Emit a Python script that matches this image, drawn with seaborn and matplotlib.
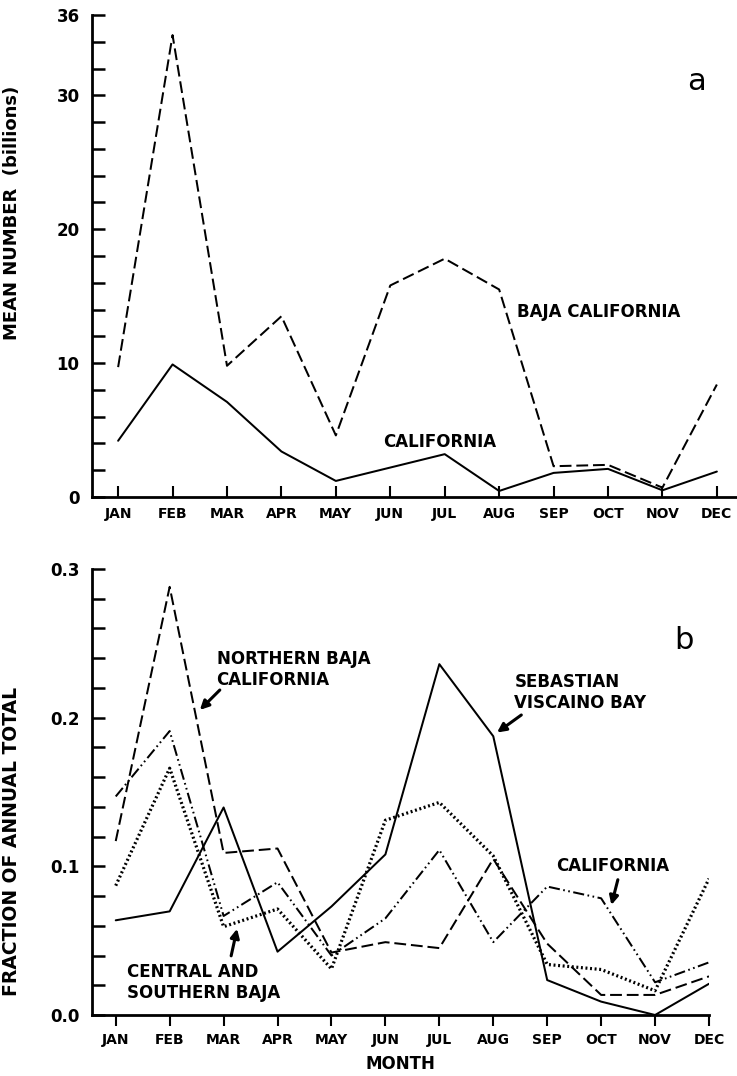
import numpy as np
import pandas as pd
import matplotlib
matplotlib.use("Agg")
import matplotlib.pyplot as plt
import seaborn as sns

# ---------------- data ----------------
MONTHS = ["JAN", "FEB", "MAR", "APR", "MAY", "JUN",
          "JUL", "AUG", "SEP", "OCT", "NOV", "DEC"]

# panel a: mean number (billions)
BAJA_A = [9.7, 34.5, 9.8, 13.5, 4.6, 15.8, 17.8, 15.5, 2.3, 2.4, 0.7, 8.4]
CALIF_A = [4.2, 9.9, 7.1, 3.4, 1.2, 2.2, 3.2, 0.45, 1.8, 2.1, 0.5, 1.9]

# panel b: fraction of annual total
NBAJA_B = [0.117, 0.288, 0.109, 0.112, 0.042, 0.049, 0.045, 0.105, 0.048, 0.0135, 0.0135, 0.026]
SVB_B = [0.0637, 0.0697, 0.1396, 0.0426, 0.073, 0.108, 0.236, 0.1875, 0.0235, 0.009, 0.0, 0.021]
CALIF_B = [0.147, 0.191, 0.0666, 0.0893, 0.040, 0.065, 0.111, 0.049, 0.0864, 0.0785, 0.022, 0.0354]
CSBAJA_B = [0.087, 0.166, 0.0594, 0.0713, 0.031, 0.131, 0.143, 0.107, 0.034, 0.0306, 0.0163, 0.0917]

YTICKS_A = [0, 10, 20, 30, 36]
YTICKS_B = [0.0, 0.1, 0.2, 0.3]

# ---------------- style ----------------
sns.set_style("ticks")
plt.rcParams["font.family"] = ["DejaVu Sans"]
plt.rcParams["lines.scale_dashes"] = False
for k in ["text.color", "axes.labelcolor", "xtick.color", "ytick.color", "axes.edgecolor"]:
    plt.rcParams[k] = "black"

fig = plt.figure(figsize=(7.37, 10.76), dpi=100)
ax1 = fig.add_axes([92 / 737, (1076 - 497) / 1076, 1 - 92 / 737, (497 - 15) / 1076])
ax2 = fig.add_axes([92 / 737, (1076 - 1015) / 1076, (709 - 92) / 737, (1015 - 569) / 1076])

idx = list(range(len(MONTHS)))

def draw(ax, values, ls, lw):
    df = pd.DataFrame({"m": idx, "v": values})
    sns.lineplot(data=df, x="m", y="v", ax=ax, color="black", sort=False,
                 linestyle=ls, linewidth=lw, errorbar=None)

DASH_A = (0, (8.5, 3.5))
DASH_B = (0, (8.5, 3.5))
DASHDOT = (0, (8, 2.5, 1.2, 2.5, 1.2, 2.5))
DOTS = (0, (1.4, 1.9))

ANN = dict(fontsize=12, fontweight="bold")

# ---- panel a ----
draw(ax1, BAJA_A, DASH_A, 1.45)
draw(ax1, CALIF_A, "-", 1.45)

ax1.set_xlim(-0.48, 11.37)
ax1.set_ylim(0, 36)
yt1 = np.arange(0, 37, 2)
ax1.set_yticks(yt1)
ax1.set_yticklabels([str(int(t)) if t in YTICKS_A else "" for t in yt1])
ax1.set_xticks(idx)
ax1.set_xticklabels(MONTHS)
ax1.tick_params(axis="y", direction="in", length=9, width=1.8, labelsize=12, pad=9)
ax1.tick_params(axis="x", direction="in", length=8, width=1.5, labelsize=10, pad=7)
for lab in ax1.get_xticklabels() + ax1.get_yticklabels():
    lab.set_fontweight("bold")
ax1.set_xlabel("")
ax1.set_ylabel("MEAN NUMBER  (billions)", fontsize=13, fontweight="bold")
ax1.yaxis.set_label_coords(-0.11, 0.59)
for s in ["top", "right"]:
    ax1.spines[s].set_visible(False)
for s in ["left", "bottom"]:
    ax1.spines[s].set_linewidth(2.0)

ax1.text(10.62, 31.0, "a", fontsize=22, ha="center", va="center")
ax1.text(7.33, 13.8, "BAJA CALIFORNIA", ha="left", va="center", **ANN)
ax1.text(4.87, 4.1, "CALIFORNIA", ha="left", va="center", **ANN)

# ---- panel b ----
draw(ax2, NBAJA_B, DASH_B, 1.45)
draw(ax2, SVB_B, "-", 1.45)
draw(ax2, CALIF_B, DASHDOT, 1.45)
draw(ax2, CSBAJA_B, DOTS, 2.3)

ax2.set_xlim(-0.44, 11)
ax2.set_ylim(0, 0.3)
yt = np.round(np.arange(0, 0.301, 0.02), 2)
ax2.set_yticks(yt)
ax2.set_yticklabels([("%.1f" % t) if any(abs(t - v) < 1e-9 for v in YTICKS_B) else "" for t in yt])
ax2.set_xticks(idx)
ax2.set_xticklabels(MONTHS)
ax2.tick_params(axis="y", direction="in", length=9, width=1.8, labelsize=12, pad=9)
ax2.tick_params(axis="x", direction="out", length=8, width=1.5, labelsize=10, pad=5)
for lab in ax2.get_xticklabels() + ax2.get_yticklabels():
    lab.set_fontweight("bold")
ax2.set_xlabel("MONTH", fontsize=12, fontweight="bold", labelpad=6)
ax2.set_ylabel("FRACTION OF ANNUAL TOTAL", fontsize=13.5, fontweight="bold")
ax2.yaxis.set_label_coords(-0.115, 0.39)
for s in ["top", "right"]:
    ax2.spines[s].set_visible(False)
for s in ["left", "bottom"]:
    ax2.spines[s].set_linewidth(2.0)

ax2.text(10.54, 0.252, "b", fontsize=22, ha="center", va="center")

arrow = dict(arrowstyle="-|>", color="black", lw=2.2, mutation_scale=13, shrinkA=0, shrinkB=0)
ax2.text(1.87, 0.2455, "NORTHERN BAJA\nCALIFORNIA", ha="left", va="top",
         linespacing=1.2, **ANN)
ax2.annotate("", xy=(1.56, 0.2052), xytext=(1.93, 0.2186), arrowprops=arrow)

ax2.text(7.39, 0.230, "SEBASTIAN\nVISCAINO BAY", ha="left", va="top",
         linespacing=1.2, **ANN)
ax2.annotate("", xy=(7.07, 0.190), xytext=(7.52, 0.2018), arrowprops=arrow)

ax2.text(8.16, 0.1005, "CALIFORNIA", ha="left", va="center", **ANN)
ax2.annotate("", xy=(9.19, 0.074), xytext=(9.31, 0.091), arrowprops=arrow)

ax2.text(0.2, 0.035, "CENTRAL AND\nSOUTHERN BAJA", ha="left", va="top",
         linespacing=1.2, **ANN)
ax2.annotate("", xy=(2.25, 0.058), xytext=(2.14, 0.0398), arrowprops=arrow)

fig.savefig("out.png", dpi=100)
